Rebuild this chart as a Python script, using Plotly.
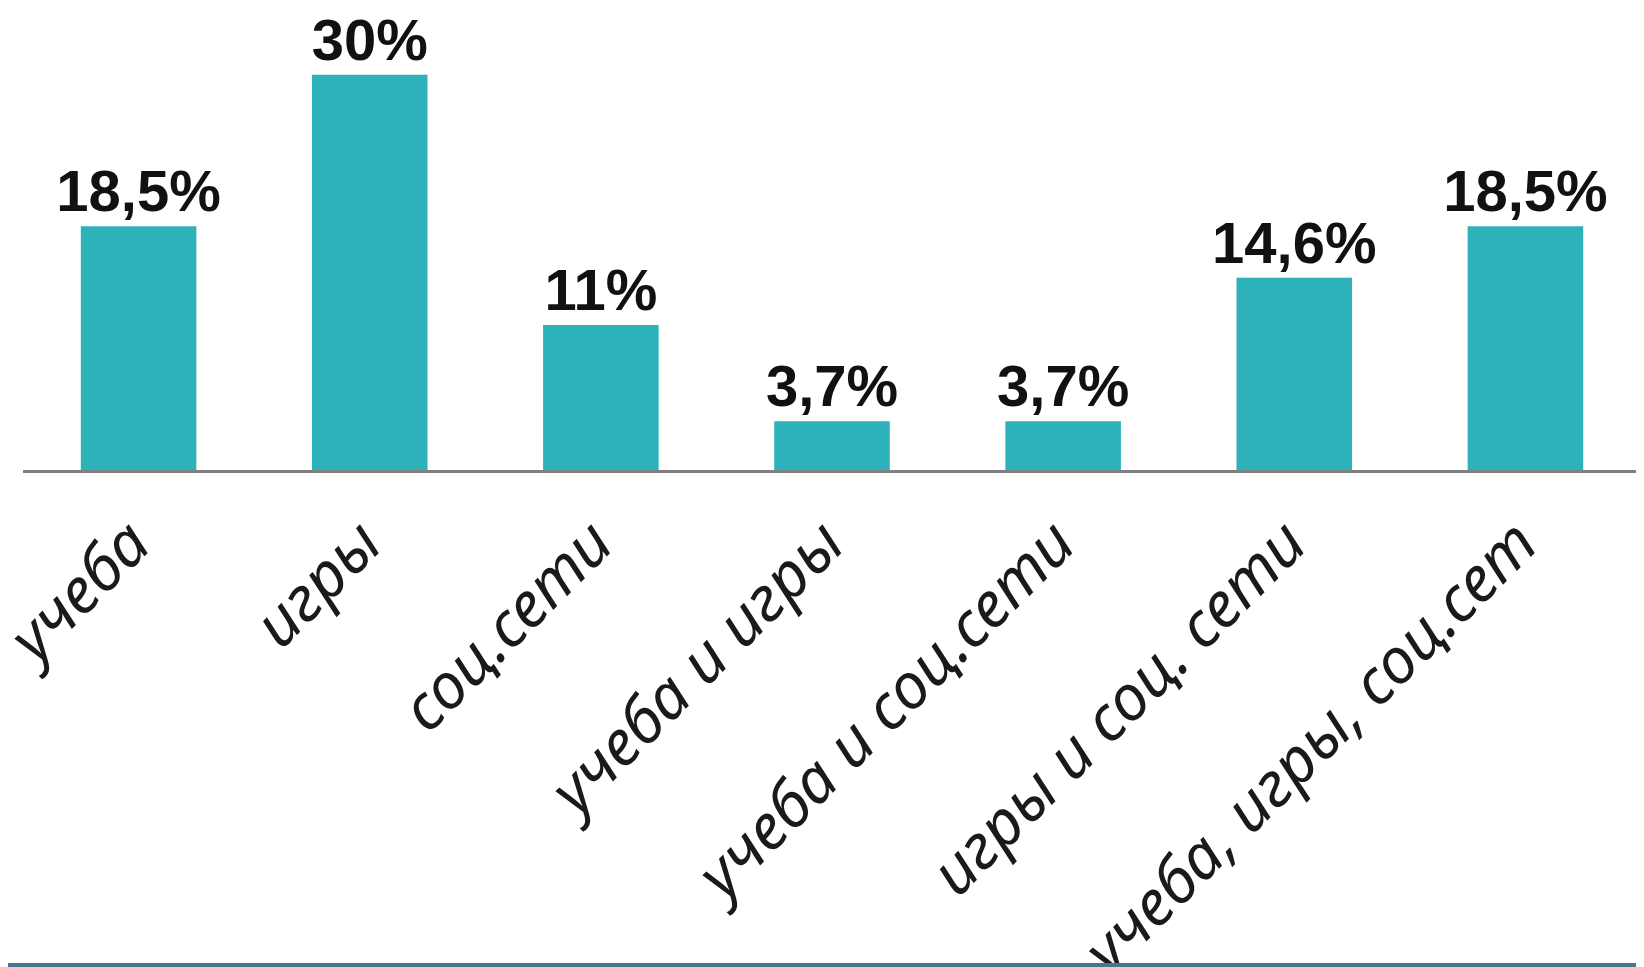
import plotly.graph_objects as go

categories = ["учеба", "игры", "соц.сети", "учеба и игры", "учеба и соц.сети",
              "игры и соц. сети", "учеба, игры, соц.сет"]
values = [18.5, 30, 11, 3.7, 3.7, 14.6, 18.5]
labels = [f"{v:g}".replace(".", ",") + "%" for v in values]

# the page body has an 8px default margin, so the figure is drawn 8px in
W, H = 1636, 959
ML, MR, MT, PB = 15, 3, 0, 462  # plot bottom (baseline)

fig = go.Figure(go.Bar(
    x=categories, y=values, text=labels,
    textposition="outside", cliponaxis=False, constraintext="none",
    textfont=dict(family="Liberation Sans, Arial, sans-serif", size=58,
                  color="#111111", weight="bold"),
    marker=dict(color="#2EB2B9", line=dict(width=0)),
    width=0.5,
))

fig.update_layout(
    width=W, height=H,
    margin=dict(l=ML, r=MR, t=MT, b=H - PB, pad=0),
    paper_bgcolor="white", plot_bgcolor="white",
    showlegend=False,
    font=dict(family="Liberation Sans, Arial, sans-serif", color="#1a1a1a"),
    xaxis=dict(
        range=[-0.5, 6.5], tickangle=-45, automargin=False,
        showline=True, linecolor="#808080", linewidth=2.5,
        ticks="", showgrid=False, zeroline=False,
        ticklabelstandoff=8, ticklabelshift=-7,
        tickfont=dict(family="Noto Sans, sans-serif", size=63, color="#1a1a1a",
                      style="italic"),
    ),
    yaxis=dict(range=[0, 35.07], visible=False, automargin=False),
    shapes=[dict(type="rect", xref="paper", yref="paper",
                 x0=-ML / (W - ML - MR), x1=(W - ML) / (W - ML - MR),
                 y0=(PB - H) / PB, y1=(PB - H + 4) / PB,
                 fillcolor="#4A7590", line=dict(width=0), layer="above")],
)
fig.update_traces(textangle=0)

fig.write_html("out.html")
